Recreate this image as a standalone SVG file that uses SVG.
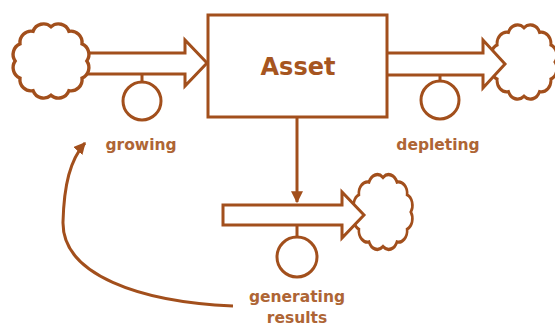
<svg xmlns="http://www.w3.org/2000/svg" width="555" height="328" viewBox="0 0 555 328">
<style>
.ln{fill:none;stroke:#A24F1C;stroke-width:3;stroke-linejoin:miter}
.pipe{fill:#fff;stroke:#A24F1C;stroke-width:3;stroke-linejoin:miter}
.cloud{fill:#fff;stroke:#A24F1C;stroke-width:3;vector-effect:non-scaling-stroke}
.lbl{font-family:"DejaVu Sans",Verdana,sans-serif;font-weight:bold;font-size:15.5px;fill:#AE6535;text-anchor:middle}
.big{font-family:"DejaVu Sans",Verdana,sans-serif;font-weight:bold;font-size:24px;fill:#A65520;text-anchor:middle}
</style>
<defs>
<path id="cl" d="M32,0 A10,10 0 0 1 27.7,15 A10,10 0 0 1 16,26 A10,10 0 0 1 0,30 A10,10 0 0 1 -16,26 A10,10 0 0 1 -27.7,15 A10,10 0 0 1 -32,0 A10,10 0 0 1 -27.7,-15 A10,10 0 0 1 -16,-26 A10,10 0 0 1 0,-30 A10,10 0 0 1 16,-26 A10,10 0 0 1 27.7,-15 A10,10 0 0 1 32,0 Z"/>
<marker id="ah" viewBox="0 0 10 10" refX="9" refY="5" markerWidth="4" markerHeight="4" orient="auto" markerUnits="strokeWidth">
<path d="M0,0 L10,5 L0,10 Z" fill="#A24F1C"/>
</marker>
</defs>
<g id="connectors">
<path class="pipe" d="M80,53 L185,53 L185,40 L207,63 L185,86 L185,74 L80,74"/>
<line class="ln" x1="142" y1="74" x2="142" y2="82"/>
<use href="#cl" class="cloud" transform="translate(524,62) scale(0.97,1.14)"/>
<path class="pipe" d="M387,53 L483,53 L483,40 L505,64 L483,88 L483,75 L387,75"/>
<line class="ln" x1="440" y1="75" x2="440" y2="81"/>
<use href="#cl" class="cloud" transform="translate(383,212) scale(0.87,1.15)"/>
<path class="pipe" d="M223,205 L342,205 L342,192 L364,215 L342,238 L342,225 L223,225 Z"/>
<line class="ln" x1="297" y1="225" x2="297" y2="237"/>
<line class="ln" x1="297" y1="117" x2="297" y2="202" marker-end="url(#ah)"/>
<path class="ln" d="M233,306 C140,302 62,275 63,222 C64,185 70,160 85,143" marker-end="url(#ah)"/>
</g>
<g id="cloud-source">
<use href="#cl" class="cloud" transform="translate(51,61) scale(1.12,1.14)"/>
</g>
<g id="asset">
<rect class="ln" x="208" y="15" width="179" height="102"/>
<text class="big" x="298" y="75">Asset</text>
</g>
<g id="growing">
<circle class="ln" cx="142" cy="101" r="19"/>
<text class="lbl" x="141" y="150">growing</text>
</g>
<g id="depleting">
<circle class="ln" cx="440" cy="100" r="19"/>
<text class="lbl" x="438" y="150">depleting</text>
</g>
<g id="generating">
<circle class="ln" cx="297" cy="257" r="20"/>
<text class="lbl" x="297" y="302">generating</text>
<text class="lbl" x="297" y="323">results</text>
</g>
</svg>
